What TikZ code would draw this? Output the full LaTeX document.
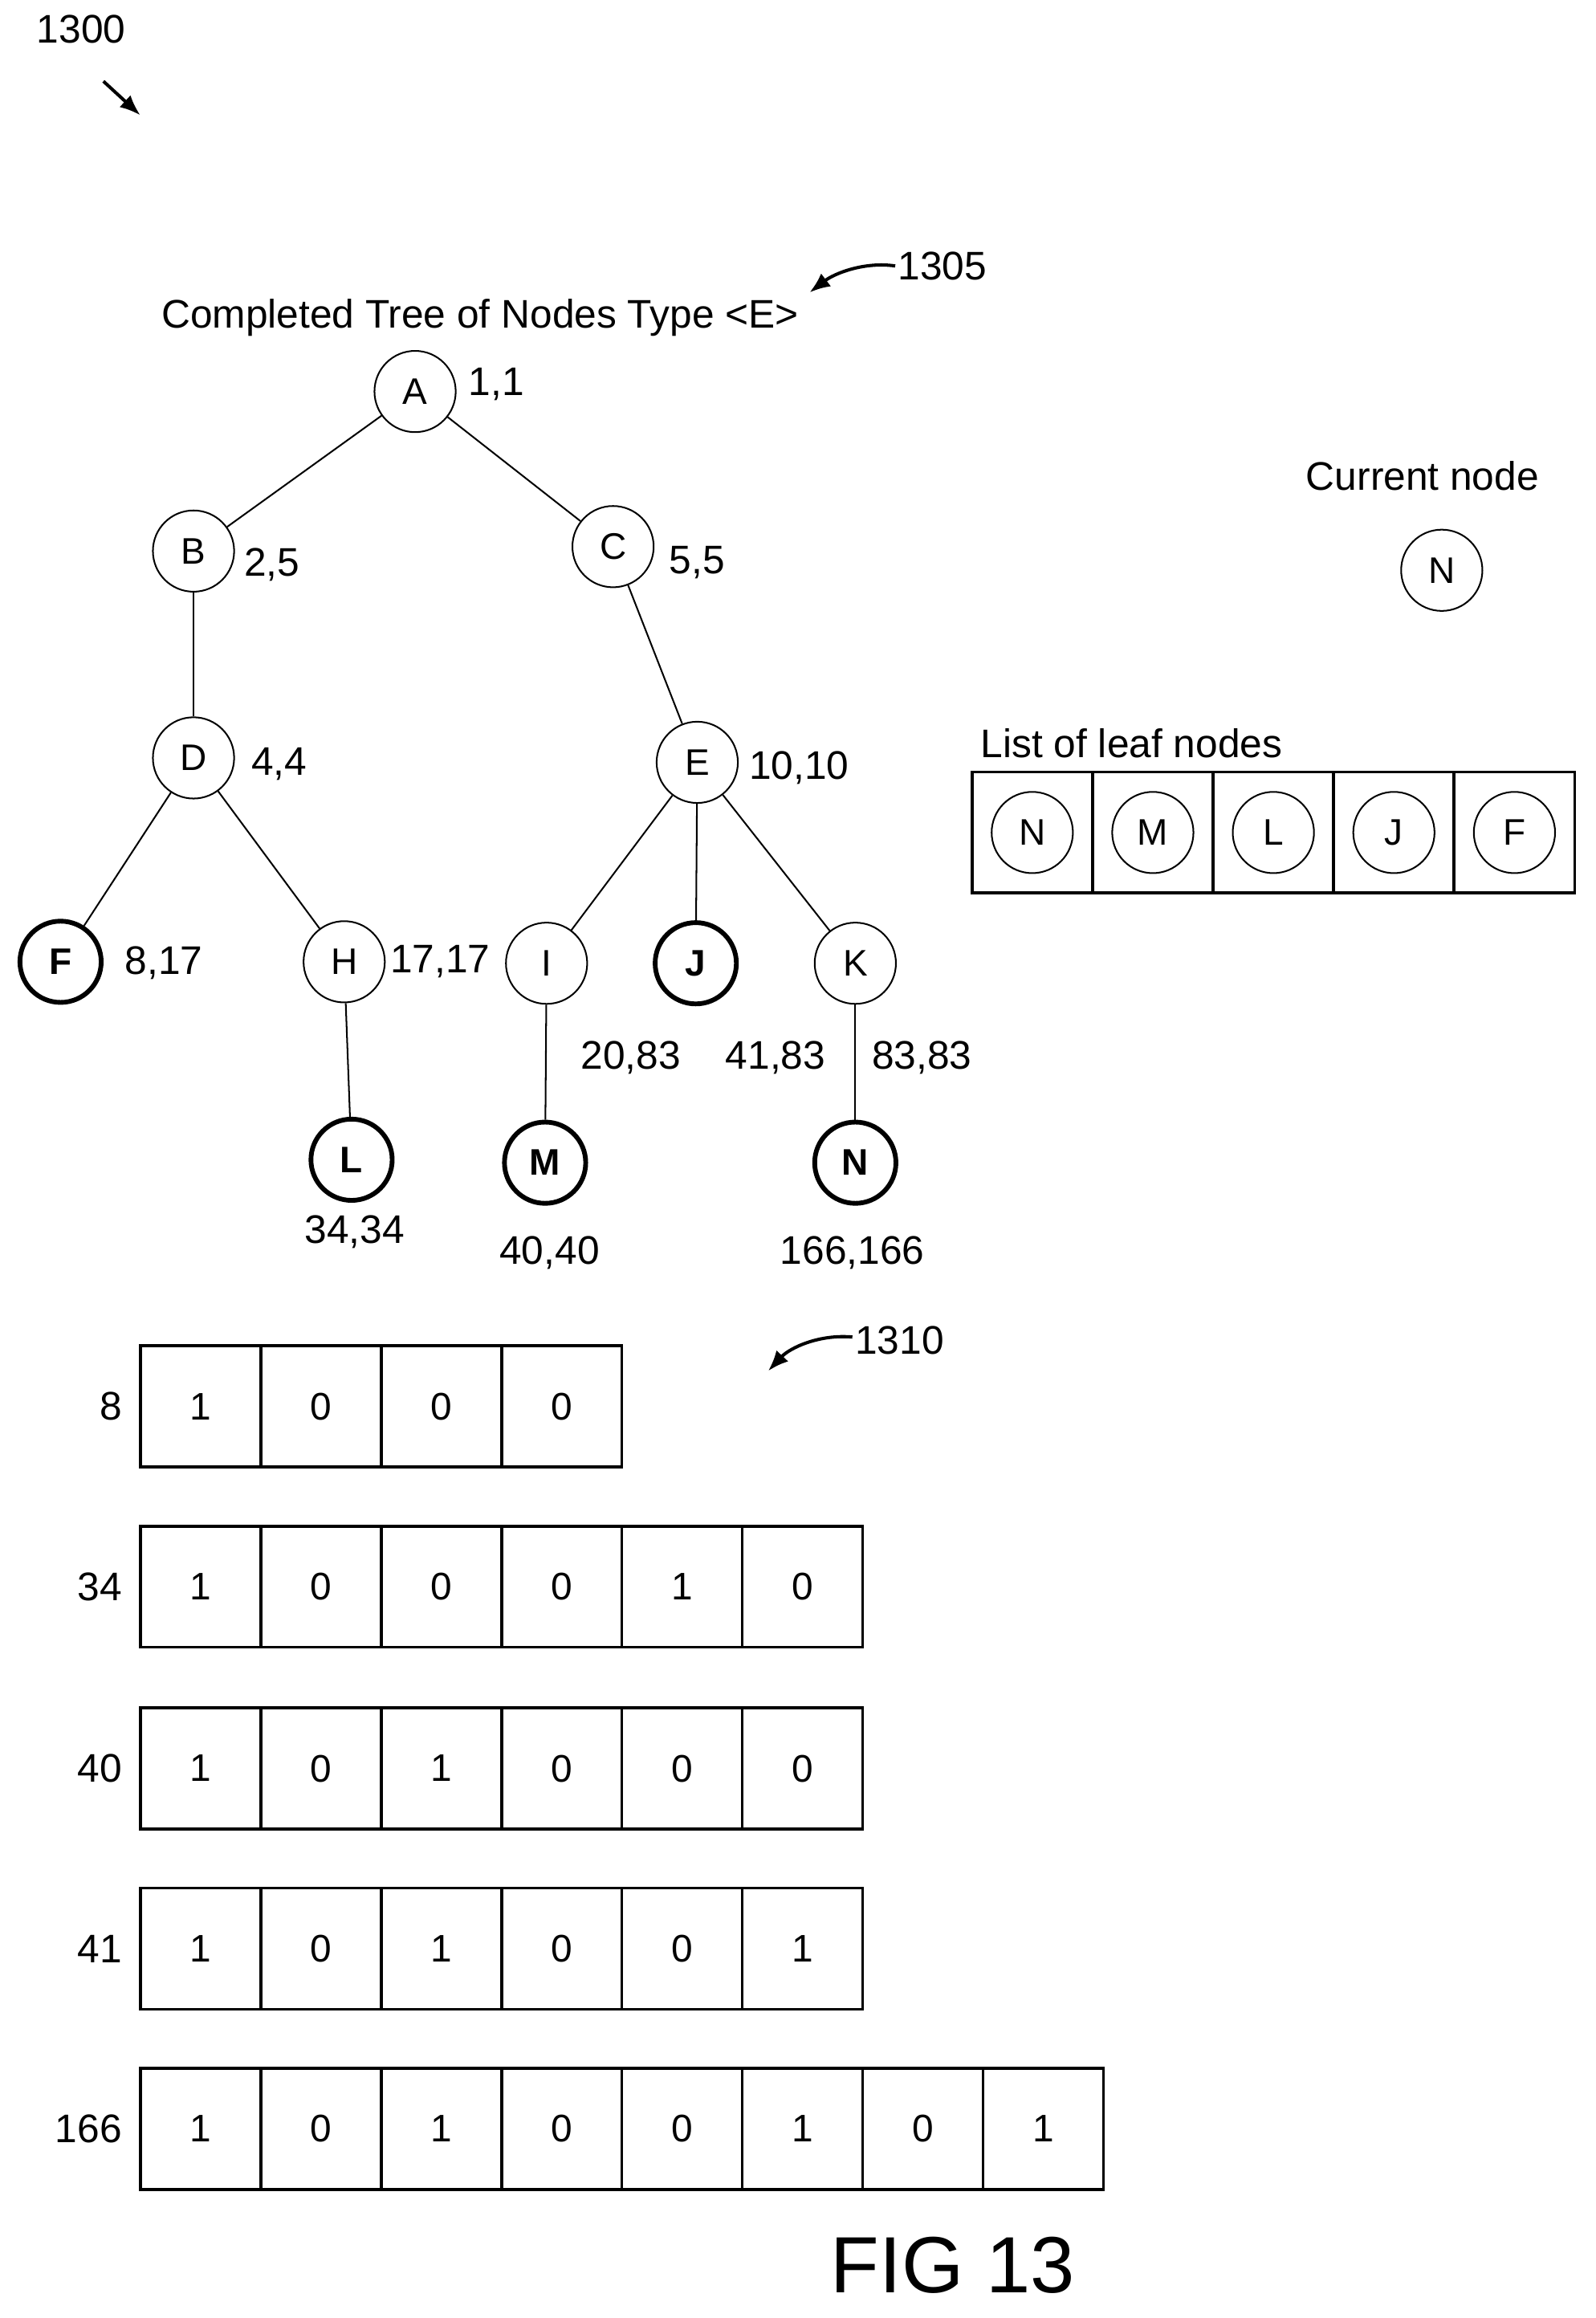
\documentclass[tikz,border=0pt]{standalone}
\usepackage{fontspec}
\setmainfont{Liberation Sans}
\usetikzlibrary{arrows.meta}
\begin{document}
\begin{tikzpicture}[x=1pt,y=-1pt,
  tn/.style={circle,draw,line width=1.1pt,minimum size=55pt,inner sep=0pt,font=\fontsize{25}{29}\selectfont},
  bn/.style={tn,line width=3.2pt,font=\fontsize{25}{29}\selectfont\bfseries},
  lb/.style={font=\fontsize{27}{31}\selectfont},
  cell/.style={draw,line width=2pt,minimum width=81.5pt,minimum height=82pt,inner sep=0pt,font=\fontsize{26}{30}\selectfont},
  ed/.style={line width=1.1pt},
  ar/.style={line width=2.2pt,-{Latex[length=14pt,width=11pt]}}]
\useasboundingbox (0,0) rectangle (1080,1569);
\node[lb] (t1300) at (55,20) {1300};
\coordinate (a1300) at (95,78);
\draw[ar] (70,55) -- (a1300);
\node[lb] (title) at (325,215) {Completed Tree of Nodes Type <E>};
\node[lb] (t1305) at (638,180) {1305};
\coordinate (a1305) at (548,198);
\draw[ar] (606,180) .. controls (585,177) and (565,185) .. (a1305);
\node[tn] (A) at (281,265) {A};
\node[tn] (B) at (131,373) {B};
\node[tn] (C) at (415,370) {C};
\node[tn] (D) at (131,513) {D};
\node[tn] (E) at (472,516) {E};
\node[bn] (F) at (41,651) {F};
\node[tn] (H) at (233,651) {H};
\node[tn] (I) at (370,652) {I};
\node[bn] (J) at (471,652) {J};
\node[tn] (K) at (579,652) {K};
\node[bn] (L) at (238,785) {L};
\node[bn] (M) at (369,787) {M};
\node[bn] (N) at (579,787) {N};
\foreach \a/\b in {A/B,A/C,B/D,C/E,D/F,D/H,E/I,E/J,E/K,H/L,I/M,K/N}
  \draw[ed] (\a) -- (\b);
\node[lb] (l1) at (336,260) {1,1};
\node[lb] (l2) at (184,382) {2,5};
\node[lb] (l3) at (472,381) {5,5};
\node[lb] (l4) at (189,517) {4,4};
\node[lb] (l5) at (541,520) {10,10};
\node[lb] (l6) at (111,652) {8,17};
\node[lb] (l7) at (298,651) {17,17};
\node[lb] (l8) at (427,716) {20,83};
\node[lb] (l9) at (525,716) {41,83};
\node[lb] (l10) at (624,716) {83,83};
\node[lb] (l11) at (240,834) {34,34};
\node[lb] (l12) at (372,848) {40,40};
\node[lb] (l13) at (577,848) {166,166};
\node[lb] (cur) at (963,322) {Current node};
\node[tn] (curN) at (976,386) {N};
\node[lb] (list) at (766,503) {List of leaf nodes};
\foreach \t [count=\i] in {N,M,L,J,F}{
  \node[cell] (lc\i) at (658+81.6*\i-40.8,563.5) {};
  \node[tn] (lcn\i) at (lc\i) {\t};
}
\node[lb] (t1310) at (609,907) {1310};
\coordinate (a1310) at (520,928);
\draw[ar] (577,905) .. controls (555,903) and (535,912) .. (a1310);
\foreach \y/\lab/\bits [count=\r] in {952/8/{1,0,0,0},1074/34/{1,0,0,0,1,0},1197/40/{1,0,1,0,0,0},1319/41/{1,0,1,0,0,1},1441/166/{1,0,1,0,0,1,0,1}}{
  \node[lb,anchor=east] (rl\r) at (86,\y) {\lab};
  \foreach \b [count=\c] in \bits
    \node[cell] (c\r\c) at (95+81.5*\c-40.75,\y) {\b};
}
\node[font=\fontsize{54}{62}\selectfont] (fig) at (645,1533) {FIG 13};
\end{tikzpicture}
\end{document}
